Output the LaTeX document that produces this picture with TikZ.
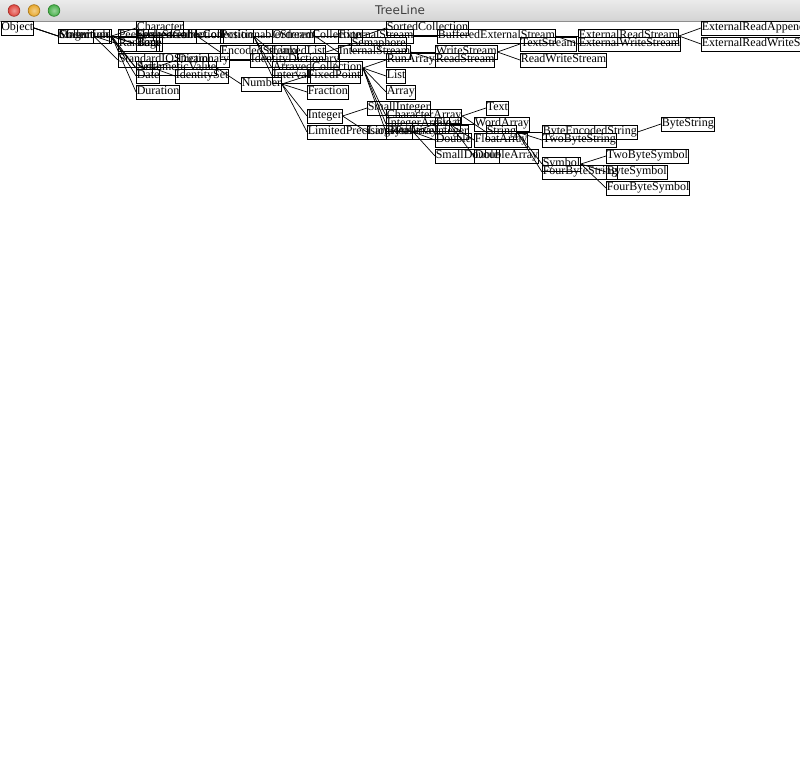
\documentclass[tikz,border=0pt]{standalone}
\usepackage{fontspec}
\setmainfont{Liberation Serif}
\newfontfamily\classfont{Liberation Serif}
\newfontfamily\titlefont{DejaVu Sans}
\definecolor{barTop}{HTML}{EBEBEB}
\definecolor{barBottom}{HTML}{D2D2D2}
\definecolor{barEdge}{HTML}{8E8E8E}
\definecolor{titleInk}{HTML}{404040}
\definecolor{closeFill}{HTML}{E0463E}
\definecolor{closeRim}{HTML}{A8322C}
\definecolor{minFill}{HTML}{E8A82C}
\definecolor{minRim}{HTML}{AE7C1E}
\definecolor{zoomFill}{HTML}{48B04A}
\definecolor{zoomRim}{HTML}{2F8530}
\tikzset{
  classbox/.style={draw=black, line width=0.8pt, inner xsep=0.4pt, inner ysep=0pt,
    minimum height=14pt, text height=9pt, text depth=3pt, anchor=west,
    font={\classfont\fontsize{12pt}{14pt}\selectfont}},
  link/.style={draw=black, line width=0.7pt},
  light/.style={line width=0.7pt}
}
% \classnode{name}{superclass}{x}{row}{label}
\newcommand\classnode[5]{%
  \node[classbox] (#1) at (#3,#4) {#5};
  \draw[link] (#2.east) -- (#1.west);}
\begin{document}
\begin{tikzpicture}[x=1pt,y=-1pt]
\clip (0,0) rectangle (800,778);
\fill[white] (0,0) rectangle (800,778);
% window title bar
\shade[top color=barTop, bottom color=barBottom] (0,0) rectangle (800,22);
\draw[barEdge, line width=1pt] (0,22) -- (800,22);
\node[font={\titlefont\fontsize{12pt}{14pt}\selectfont}, text=titleInk] (title) at (400,10.5) {TreeLine};
\shade[inner color=closeFill!55!white, outer color=closeFill] (14,10.5) circle (5.8);
\draw[closeRim, light] (14,10.5) circle (5.8);
\shade[inner color=minFill!55!white, outer color=minFill] (34,10.5) circle (5.8);
\draw[minRim, light] (34,10.5) circle (5.8);
\shade[inner color=zoomFill!55!white, outer color=zoomFill] (54,10.5) circle (5.8);
\draw[zoomRim, light] (54,10.5) circle (5.8);

% class tree
\node[classbox] (object) at (0.5,28) {Object};
\classnode{magnitude}{object}{58}{36}{Magnitude}
\classnode{collection}{object}{58}{36}{Collection}
\classnode{stream}{object}{58}{36}{Stream}

\classnode{character}{magnitude}{136}{28}{Character}
\classnode{time}{magnitude}{136}{44}{Time}
\classnode{arith}{magnitude}{136}{68}{ArithmeticValue}
\classnode{date}{magnitude}{136}{76}{Date}
\classnode{duration}{magnitude}{136}{92}{Duration}

\classnode{hashed}{collection}{136}{36}{HashedCollection}
\classnode{seqcoll}{collection}{136}{36}{SequenceableCollection}
\classnode{bag}{collection}{136}{44}{Bag}
\classnode{set}{collection}{136}{68}{Set}
\classnode{dict}{set}{177}{60}{Dictionary}
\classnode{identityset}{set}{175}{76}{IdentitySet}
\classnode{identitydict}{dict}{250}{60}{IdentityDictionary}

\classnode{peek}{stream}{118}{36}{PeekableStream}
\classnode{random}{stream}{118}{44}{Random}
\classnode{stdio}{stream}{118}{60}{StandardIOStream}
\classnode{positionable}{peek}{220}{36}{PositionableStream}
\classnode{encoded}{peek}{220}{52}{EncodedStream}
\classnode{external}{positionable}{338}{36}{ExternalStream}
\classnode{internal}{positionable}{338}{52}{InternalStream}
\classnode{buffered}{external}{437}{36}{BufferedExternalStream}
\classnode{writestream}{internal}{435}{52}{WriteStream}
\classnode{readstream}{internal}{435}{60}{ReadStream}
\classnode{textstream}{writestream}{520}{44}{TextStream}
\classnode{readwrite}{writestream}{520}{60}{ReadWriteStream}
\classnode{extread}{buffered}{578}{36}{ExternalReadStream}
\classnode{extwrite}{buffered}{578}{44}{ExternalWriteStream}
\classnode{extappend}{extread}{701}{28}{ExternalReadAppendStream}
\classnode{extreadwrite}{extread}{701}{44}{ExternalReadWriteStream}

\classnode{ordered}{seqcoll}{272}{36}{OrderedCollection}
\classnode{linked}{seqcoll}{272}{52}{LinkedList}
\classnode{arrayed}{seqcoll}{272}{68}{ArrayedCollection}
\classnode{interval}{seqcoll}{272}{76}{Interval}
\classnode{sorted}{ordered}{386}{28}{SortedCollection}
\classnode{semaphore}{linked}{351}{44}{Semaphore}
\classnode{runarray}{arrayed}{386}{60}{RunArray}
\classnode{list}{arrayed}{386}{76}{List}
\classnode{array}{arrayed}{386}{92}{Array}
\classnode{chararray}{arrayed}{386}{116}{CharacterArray}
\classnode{intarray}{arrayed}{386}{124}{IntegerArray}
\classnode{bytearray}{arrayed}{386}{132}{ByteArray}
\classnode{wordarray}{intarray}{474}{124}{WordArray}
\classnode{floatarray}{intarray}{474}{140}{FloatArray}
\classnode{doublearray}{intarray}{474}{156}{DoubleArray}

\classnode{number}{arith}{241}{84}{Number}
\classnode{fixedpoint}{number}{307}{76}{FixedPoint}
\classnode{fraction}{number}{307}{92}{Fraction}
\classnode{integer}{number}{307}{116}{Integer}
\classnode{lpr}{number}{307}{132}{LimitedPrecisionReal}
\classnode{smallint}{integer}{367}{108}{SmallInteger}
\classnode{largepos}{integer}{367}{132}{LargePositiveInteger}
\classnode{float}{lpr}{435}{124}{Float}
\classnode{double}{lpr}{435}{140}{Double}
\classnode{smalldouble}{lpr}{435}{156}{SmallDouble}

\classnode{text}{chararray}{486}{108}{Text}
\classnode{string}{chararray}{486}{132}{String}
\classnode{byteenc}{string}{542}{132}{ByteEncodedString}
\classnode{twobytestr}{string}{542}{140}{TwoByteString}
\classnode{symbol}{string}{542}{164}{Symbol}
\classnode{fourbytestr}{string}{542}{172}{FourByteString}
\classnode{bytestring}{byteenc}{661}{124}{ByteString}
\classnode{twobytesym}{symbol}{606}{156}{TwoByteSymbol}
\classnode{bytesym}{symbol}{606}{172}{ByteSymbol}
\classnode{fourbytesym}{symbol}{606}{188}{FourByteSymbol}
\end{tikzpicture}
\end{document}
